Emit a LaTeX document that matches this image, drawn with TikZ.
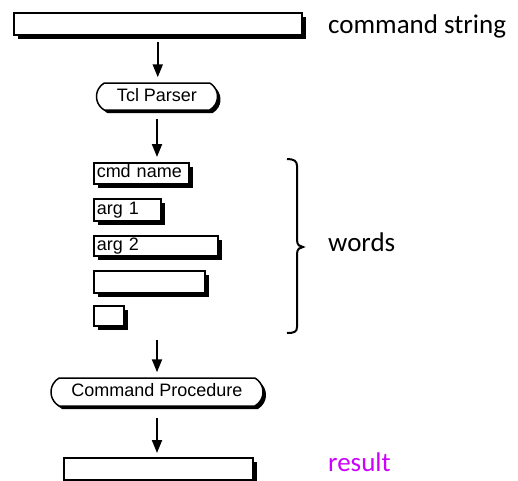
\documentclass[tikz,border=0pt]{standalone}
\usepackage{fontspec}
\newfontfamily\boxfont{Liberation Sans}
\newfontfamily\labfont{Carlito}
\usetikzlibrary{arrows.meta,shadows,shapes.misc}
\definecolor{resultcol}{RGB}{204,0,255}
\tikzset{
  wbox/.style={draw=black, line width=1.5pt, fill=white, rectangle, inner sep=0pt,
    drop shadow={shadow xshift=4pt, shadow yshift=-4pt, fill=black, opacity=1},
    font=\boxfont\fontsize{18}{20}\selectfont, text height=13pt, text depth=3.8pt,
    anchor=north west, align=left, minimum height=21pt},
  procbox/.style={draw=black, line width=1.5pt, fill=white, rounded rectangle,
    rounded rectangle arc length=120, inner sep=0pt,
    drop shadow={shadow xshift=3pt, shadow yshift=-3pt, fill=black, opacity=1},
    font=\boxfont\fontsize{18}{20}\selectfont, text height=13pt, text depth=3.8pt},
  flowarrow/.style={line width=2pt, -{Triangle[length=13pt,width=10pt]}},
  sidelabel/.style={font=\labfont\fontsize{27}{30}\selectfont, anchor=base west, inner sep=0pt}
}
\begin{document}
\begin{tikzpicture}[x=1pt,y=-1pt]
\useasboundingbox (0,0) rectangle (518,480);
\clip (0,0) rectangle (518,480);
% boxes
\node[wbox, minimum width=288pt, minimum height=22pt] (cmdstr) at (13,12) {};
\node[procbox, minimum width=121pt, minimum height=27pt] (tcl) at (157,96.5) {Tcl Parser};
\node[wbox, minimum width=95pt, text width=89pt, inner xsep=3pt] (cmdname) at (93,162) {cmd name};
\node[wbox, minimum width=67pt, text width=61pt, inner xsep=3pt, minimum height=22pt] (arga) at (93,198) {arg 1};
\node[wbox, minimum width=124pt, text width=118pt, inner xsep=3pt, minimum height=20pt] (argb) at (93,235) {arg 2};
\node[wbox, minimum width=111pt, minimum height=22pt] (argc) at (93,270) {};
\node[wbox, minimum width=30pt, minimum height=20pt] (argd) at (93,305) {};
\node[procbox, minimum width=212pt, minimum height=28pt] (proc) at (157,392) {Command Procedure};
\node[wbox, minimum width=189pt, minimum height=22pt] (result) at (63,457) {};
% arrows
\draw[flowarrow, shorten <=6pt, shorten >=5pt] (cmdstr.south) -- (cmdstr.south |- tcl.north);
\draw[flowarrow, shorten <=8pt, shorten >=5pt] (tcl.south) -- (tcl.south |- cmdname.north);
\draw[flowarrow, shorten <=13pt, shorten >=5pt] (proc.north |- argd.south) -- (proc.north);
\draw[flowarrow, shorten <=11pt, shorten >=4pt] (proc.south) -- (proc.south |- result.north);
% brace
\draw[line width=2pt] (287,159) .. controls (294,159) and (297,161) .. (297,166) -- (297,240)
  .. controls (297,245) and (300,247) .. (303,247)
  .. controls (300,247) and (297,249) .. (297,254) -- (297,327)
  .. controls (297,332) and (294,333) .. (287,333);
% labels
\node[sidelabel] (lcmd) at (328,33) {command string};
\node[sidelabel] (lwords) at (328,251) {words};
\node[sidelabel, text=resultcol] (lres) at (328,471) {result};
\end{tikzpicture}
\end{document}
